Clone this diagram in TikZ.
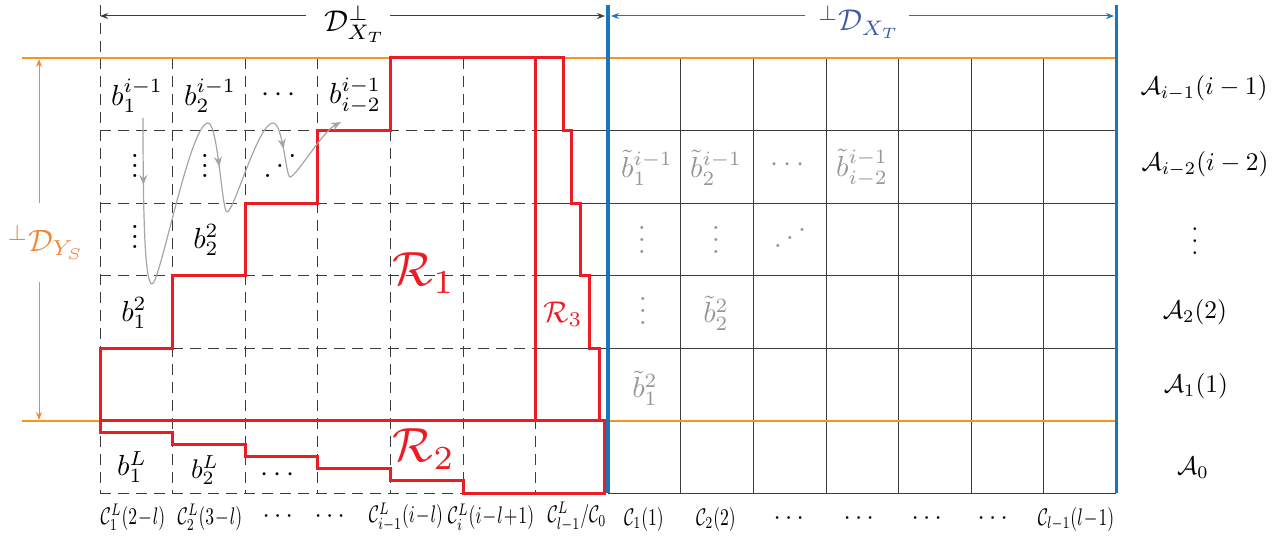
\documentclass[tikz,border=0pt]{standalone}
\usepackage{amsmath}
\usepackage{graphicx}
\usetikzlibrary{arrows.meta,decorations.markings}
\definecolor{myred}{RGB}{237,28,36}
\definecolor{myblue}{RGB}{27,117,188}
\definecolor{myorange}{RGB}{247,148,29}
\definecolor{lblblue}{RGB}{60,90,170}
\definecolor{lblorange}{RGB}{245,134,52}
\definecolor{gridc}{RGB}{60,60,60}
\definecolor{tgray}{RGB}{150,150,150}
\definecolor{cgray}{RGB}{165,165,165}
\newcommand{\vd}[1]{\vbox{\baselineskip=#1\lineskiplimit=0pt\hbox{.}\hbox{.}\hbox{.}}}
\newcommand{\idd}[2]{\hbox{.\kern#1\raise#2\hbox{.}\kern#1\raise#2\hbox{\raise#2\hbox{.}}}}
\newcommand{\blx}[1]{\scalebox{1.45}{$#1$}}
\newcommand{\alx}[1]{\scalebox{1.27}{$#1$}}
\newcommand{\clx}[1]{\scalebox{0.88}[1.2]{\medmuskip=1mu$#1$}}
\newcommand{\cdx}{\scalebox{1.3}{$\cdots$}}
\newcommand{\scl}[2]{\scalebox{#1}{$#2$}}
\begin{document}
\begin{tikzpicture}[x=0.5pt,y=-0.5pt,
  dashgrid/.style={draw=gridc, line width=0.5pt, dash pattern=on 5.5pt off 3.5pt},
  solidgrid/.style={draw=gridc, line width=0.5pt},
  orangeline/.style={draw=myorange, line width=1pt},
  blueline/.style={draw=myblue, line width=1.7pt},
  redline/.style={draw=myred, line width=1.5pt, line join=miter},
  lab/.style={font=\normalsize, inner sep=0pt},
  tlab/.style={lab, text=tgray},
  snake/.style={draw=cgray, color=cgray, line width=0.6pt},
  midarrow/.style={decoration={markings, mark=at position #1 with {\arrow{Stealth[length=5pt,width=4pt]}}}, postaction=decorate},
  toparrow/.style={line width=0.5pt, -{Stealth[length=4pt,width=3pt]}}
]
\useasboundingbox (0,0) rectangle (1283,540);

% left dashed grid
\foreach \k in {0,...,6} \draw[dashgrid] ({100+72.6*\k},58) -- ({100+72.6*\k},493);
\draw[dashgrid] (100,5) -- (100,58);
\foreach \y in {130.5,203,275.5,348} {
  \draw[dashgrid] (100,\y) -- (535.6,\y);
  \draw[solidgrid] (535.6,\y) -- (1116.2,\y);
}
\draw[dashgrid] (100,493) -- (463,493);
\draw[solidgrid] (608,493) -- (1116.2,493);
\foreach \k in {8,...,13} \draw[solidgrid] ({100+72.6*\k},58) -- ({100+72.6*\k},493);

% orange lines
\draw[orangeline] (22,58) -- (1116.2,58);
\draw[orangeline] (22,420.5) -- (1116.2,420.5);

% blue lines
\draw[blueline] (608,5) -- (608,493);
\draw[blueline] (1116.2,5) -- (1116.2,493);

% red regions
\draw[redline] (100,420.5) -- (100,348) -- (172.6,348) -- (172.6,275.5) -- (245.2,275.5) -- (245.2,203)
  -- (317.8,203) -- (317.8,130.5) -- (390.4,130.5) -- (390.4,58) -- (563,58) -- (563,130.5)
  -- (571,130.5) -- (571,203) -- (580,203) -- (580,275.5) -- (589,275.5) -- (589,348)
  -- (599,348) -- (599,420.5);
\draw[redline] (535.6,58) -- (535.6,420.5);
\draw[redline] (100,420.5) -- (604,420.5) -- (604,493) -- (463,493) -- (463,480.5) -- (390.4,480.5)
  -- (390.4,468.5) -- (317.8,468.5) -- (317.8,456.5) -- (245.2,456.5) -- (245.2,444.5)
  -- (172.6,444.5) -- (172.6,432.5) -- (100,432.5) -- cycle;

% top arrows and labels
\node[lab] (dxt) at (355,24) {\scl{1.5}{\mathcal{D}^{\perp}_{X_T}}};
\coordinate (tl) at (100,16);
\coordinate (tg1) at (306,16);
\coordinate (tg2) at (390,16);
\coordinate (tr) at (605,16);
\draw[toparrow, draw=gridc, color=gridc] (tg1) -- (tl);
\draw[toparrow, draw=gridc, color=gridc] (tg2) -- (tr);
\node[lab, text=lblblue] (dxtb) at (859,22) {\scl{1.5}{{}^{\perp}\mathcal{D}_{X_T}}};
\coordinate (bl) at (611,16);
\coordinate (bg1) at (805,16);
\coordinate (bg2) at (909,16);
\coordinate (br) at (1114,16);
\draw[toparrow, draw=myblue, color=myblue] (bg1) -- (bl);
\draw[toparrow, draw=myblue, color=myblue] (bg2) -- (br);

% left orange arrow
\node[lab, text=lblorange] (dys) at (46,242) {\scl{1.55}{{}^{\perp}\mathcal{D}_{Y_S}}};
\coordinate (lt) at (39,59);
\coordinate (lg1) at (39,203);
\coordinate (lg2) at (39,282);
\coordinate (lb) at (39,420);
\draw[toparrow, draw=lblorange, color=lblorange] (lg1) -- (lt);
\draw[toparrow, draw=lblorange, color=lblorange] (lg2) -- (lb);

% left labels
\node[lab] (b11) at (137,96) {\blx{b_1^{i-1}}};
\node[lab] (b21) at (210,96) {\blx{b_2^{i-1}}};
\node[lab] (bdots) at (281,95) {\blx{\cdots}};
\node[lab] (bi2) at (355,96) {\blx{b_{i-2}^{i-1}}};
\node[lab] (v1) at (135,166) {\scalebox{1.45}{\vd{3.5pt}}};
\node[lab] (v2) at (205,166) {\scalebox{1.45}{\vd{3.5pt}}};
\node[lab] (id1) at (280,166) {\scalebox{1.45}{\idd{1.5pt}{3.3pt}}};
\node[lab] (v3) at (135,237) {\scalebox{1.45}{\vd{3.5pt}}};
\node[lab] (b22) at (206,240) {\blx{b_2^2}};
\node[lab] (b12) at (134,313) {\blx{b_1^2}};
\node[lab] (b1L) at (132,467) {\blx{b_1^L}};
\node[lab] (b2L) at (205,470) {\scl{1.35}{b_2^L}};
\node[lab] (bLd) at (280,475) {\blx{\cdots}};

% region labels
\node[lab, text=myred] (r1) at (424,273) {\scl{2.4}{\mathcal{R}_1}};
\node[lab, text=myred] (r2) at (424,449) {\scl{2.4}{\mathcal{R}_2}};
\node[lab, text=myred] (r3) at (563,314) {\scl{1.5}{\mathcal{R}_3}};

% right gray labels
\node[tlab] (t11) at (647,168) {\blx{\tilde{b}_1^{i-1}}};
\node[tlab] (t21) at (716,168) {\blx{\tilde{b}_2^{i-1}}};
\node[tlab] (tdots) at (790,165) {\blx{\cdots}};
\node[tlab] (ti2) at (862,168) {\blx{\tilde{b}_{i-2}^{i-1}}};
\node[tlab] (tv1) at (642,240) {\scalebox{1.45}{\vd{4pt}}};
\node[tlab] (tv2) at (716,240) {\scalebox{1.45}{\vd{4pt}}};
\node[tlab] (tid) at (790,238) {\scalebox{1.45}{\idd{1.4pt}{2.9pt}}};
\node[tlab] (tv3) at (643,311) {\scalebox{1.45}{\vd{4pt}}};
\node[tlab] (t22) at (716,313) {\blx{\tilde{b}_2^2}};
\node[tlab] (t12) at (645,388) {\blx{\tilde{b}_1^2}};

% right A labels
\node[lab] (a1) at (1204,88) {\alx{\mathcal{A}_{i-1}(i-1)}};
\node[lab] (a2) at (1205,164) {\alx{\mathcal{A}_{i-2}(i-2)}};
\node[lab] (av) at (1195,241) {\scalebox{1.27}{\vd{4.8pt}}};
\node[lab] (a3) at (1195,312) {\alx{\mathcal{A}_2(2)}};
\node[lab] (a4) at (1196,386) {\alx{\mathcal{A}_1(1)}};
\node[lab] (a5) at (1193,468) {\alx{\mathcal{A}_0}};

% bottom labels
\node[lab] (c1) at (133,517) {\clx{\mathcal{C}_1^L(2-l)}};
\node[lab] (c2) at (210,517) {\clx{\mathcal{C}_2^L(3-l)}};
\node[lab] (c3) at (280,517) {\cdx};
\node[lab] (c4) at (332,517) {\cdx};
\node[lab] (c5) at (406,517) {\clx{\mathcal{C}_{i-1}^L(i-l)}};
\node[lab] (c6) at (491,517) {\clx{\mathcal{C}_i^L(i-l+1)}};
\node[lab] (c7) at (577,517) {\clx{\mathcal{C}_{l-1}^L/\mathcal{C}_0}};
\node[lab] (d1) at (644,519) {\clx{\mathcal{C}_1(1)}};
\node[lab] (d2) at (716,519) {\clx{\mathcal{C}_2(2)}};
\node[lab] (d3) at (791,519) {\cdx};
\node[lab] (d4) at (861,519) {\cdx};
\node[lab] (d5) at (929,519) {\cdx};
\node[lab] (d6) at (995,519) {\cdx};
\node[lab] (d7) at (1076,519) {\clx{\mathcal{C}_{l-1}(l-1)}};

% gray snake
\draw[snake, midarrow=0.4] (143,118) .. controls (143,220) and (145,284) .. (152,284);
\draw[snake] (152,284) .. controls (160,284) and (190,123) .. (208,123);
\draw[snake, midarrow=0.5] (208,123) .. controls (218,123) and (222,212) .. (227,212);
\draw[snake] (227,212) .. controls (234,212) and (258,123) .. (273,123);
\draw[snake, midarrow=0.5] (273,123) .. controls (283,123) and (286,177) .. (290,177);
\draw[snake, -{Stealth[length=5pt,width=4pt]}] (290,177) .. controls (296,177) and (322,132) .. (341,122);
\end{tikzpicture}
\end{document}
